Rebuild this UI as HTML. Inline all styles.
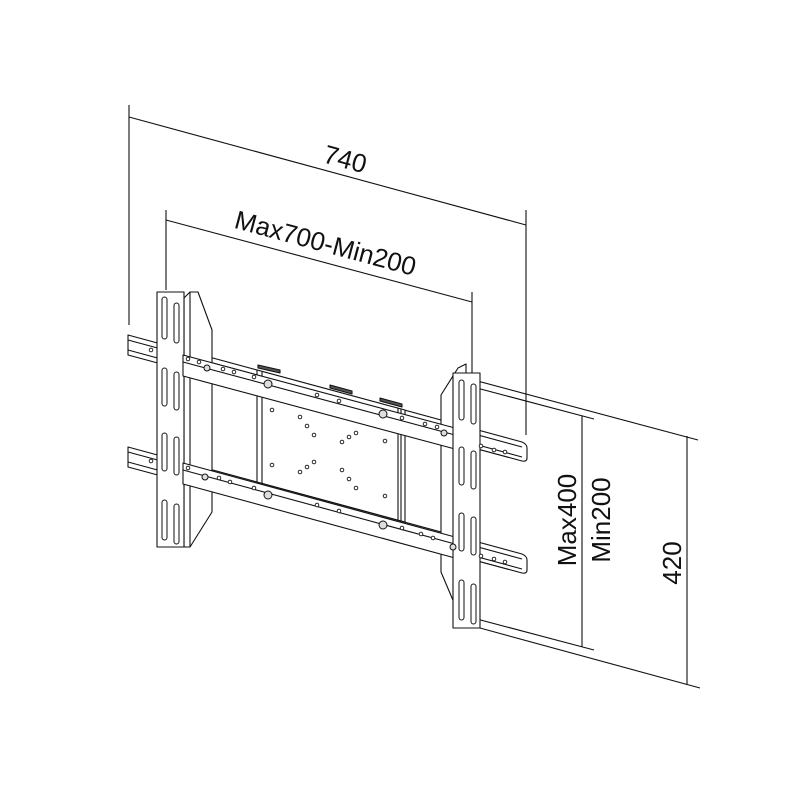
<!DOCTYPE html>
<html><head><meta charset="utf-8"><style>
html,body{margin:0;padding:0;background:#fff}
svg{display:block}
text{font-family:"Liberation Sans",Arial,sans-serif;fill:#111}
</style></head><body>
<svg width="810" height="810" viewBox="0 0 810 810" xmlns="http://www.w3.org/2000/svg">
<g stroke="#111" stroke-width="1.1" fill="none">
<!-- dimension 740 -->
<line x1="129" y1="105" x2="129" y2="325"/>
<line x1="526" y1="210" x2="526" y2="435"/>
<line x1="129" y1="117" x2="526" y2="225"/>
<!-- dimension Max700 -->
<line x1="166" y1="210" x2="166" y2="290"/>
<line x1="472" y1="292" x2="472" y2="375"/>
<line x1="166" y1="220" x2="472" y2="302"/>
<!-- Max400 -->
<line x1="473" y1="387" x2="594" y2="419"/>
<line x1="473" y1="618" x2="594" y2="650"/>
<line x1="582" y1="416" x2="582" y2="647"/>
<!-- 420 -->
<line x1="455" y1="375" x2="698" y2="440"/>
<line x1="480" y1="628" x2="700" y2="688"/>
<line x1="687" y1="436" x2="687" y2="685"/>
</g>

<g stroke="#111" stroke-width="1.1" fill="#fff" stroke-linejoin="round">
<!-- back wall rails -->
<path d="M128 335 L522 442 Q527 444 527 448 L527 458 Q527 462 522 461 L128 355 Z"/>
<path d="M128 340 L522 447 M128 350 L522 457" fill="none"/>
<path d="M128 447 L522 554 Q527 556 527 560 L527 570 Q527 574 522 573 L128 467 Z"/>
<path d="M128 452 L522 559 M128 462 L522 569" fill="none"/>

<!-- left flange -->
<path d="M184 298 L190 292 L198 292 L212 330 L212 512 L190 547 L184 547 Z"/>
<line x1="190" y1="292" x2="190" y2="547"/>
<!-- left plate -->
<rect x="157" y="292" width="27" height="255"/>
<!-- right flange -->
<path d="M458 368 L466 364 L466 628 L455 605 L441 572 L441 395 Z"/>
<!-- center plate -->
<path d="M257 370 L405 410 L405 522 L257 482 Z"/>
<path d="M262 372 L262 484 M398 408 L398 520 M401 409 L401 521" fill="none"/>
<path d="M258 365 L280 370 L280 373 L258 368 Z M330 385 L352 391 L352 394 L330 388 Z M380 398 L402 404 L402 407 L380 401 Z" fill="#555"/>
<!-- front crossbars -->
<path d="M183 355 L455 428 L455 449 L183 376 Z"/>
<line x1="183" y1="362" x2="455" y2="435"/>
<path d="M183 463 L455 537 L455 558 L183 484 Z"/>
<line x1="183" y1="470" x2="455" y2="544"/>
<!-- right plate -->
<rect x="453" y="373" width="27" height="255"/>
</g>

<!-- slots -->
<g stroke="#111" stroke-width="1" fill="#fff">
<rect x="162" y="297" width="5" height="42" rx="2.5"/>
<rect x="174" y="303" width="5" height="40" rx="2.5"/>
<rect x="162" y="368" width="5" height="38" rx="2.5"/>
<rect x="174" y="372" width="5" height="38" rx="2.5"/>
<rect x="162" y="433" width="5" height="38" rx="2.5"/>
<rect x="174" y="437" width="5" height="38" rx="2.5"/>
<rect x="162" y="500" width="5" height="40" rx="2.5"/>
<rect x="174" y="504" width="5" height="40" rx="2.5"/>
<rect x="459" y="380" width="5" height="40" rx="2.5"/>
<rect x="471" y="384" width="5" height="40" rx="2.5"/>
<rect x="459" y="447" width="5" height="38" rx="2.5"/>
<rect x="471" y="451" width="5" height="38" rx="2.5"/>
<rect x="459" y="513" width="5" height="38" rx="2.5"/>
<rect x="471" y="517" width="5" height="38" rx="2.5"/>
<rect x="459" y="580" width="5" height="40" rx="2.5"/>
<rect x="471" y="584" width="5" height="40" rx="2.5"/>
</g>

<!-- dots -->
<g stroke="#111" stroke-width="0.9" fill="#fff">
<circle cx="151" cy="350" r="1.8"/><circle cx="151" cy="461" r="1.8"/>
<circle cx="188" cy="359" r="1.8"/><circle cx="199" cy="362" r="1.8"/><circle cx="223" cy="369" r="1.8"/>
<circle cx="234" cy="372" r="1.8"/><circle cx="254" cy="377" r="1.8"/><circle cx="317" cy="395" r="1.8"/>
<circle cx="339" cy="401" r="1.8"/><circle cx="402" cy="418" r="1.8"/><circle cx="425" cy="424" r="1.8"/>
<circle cx="437" cy="427" r="1.8"/>
<circle cx="188" cy="468" r="1.8"/><circle cx="219" cy="478" r="1.8"/><circle cx="230" cy="482" r="1.8"/>
<circle cx="254" cy="488" r="1.8"/><circle cx="317" cy="505" r="1.8"/><circle cx="339" cy="511" r="1.8"/>
<circle cx="402" cy="528" r="1.8"/><circle cx="421" cy="534" r="1.8"/><circle cx="433" cy="538" r="1.8"/>
<circle cx="481" cy="446" r="1.8"/><circle cx="494" cy="450" r="1.8"/><circle cx="505" cy="452" r="1.8"/>
<circle cx="481" cy="556" r="1.8"/><circle cx="494" cy="559" r="1.8"/><circle cx="505" cy="562" r="1.8"/>
<circle cx="272" cy="410" r="1.8"/><circle cx="300" cy="417" r="1.8"/><circle cx="307" cy="426" r="1.8"/><circle cx="314" cy="435" r="1.8"/>
<circle cx="342" cy="442" r="1.8"/><circle cx="349" cy="437" r="1.8"/><circle cx="356" cy="433" r="1.8"/><circle cx="385" cy="441" r="1.8"/>
<circle cx="272" cy="465" r="1.8"/><circle cx="300" cy="472" r="1.8"/><circle cx="307" cy="467" r="1.8"/><circle cx="314" cy="462" r="1.8"/>
<circle cx="342" cy="470" r="1.8"/><circle cx="349" cy="479" r="1.8"/><circle cx="356" cy="488" r="1.8"/><circle cx="385" cy="496" r="1.8"/>
</g>
<g stroke="#111" stroke-width="1" fill="#ddd">
<circle cx="268" cy="384" r="4"/><circle cx="383" cy="414" r="4"/>
<circle cx="268" cy="495" r="4"/><circle cx="383" cy="525" r="4"/>
<circle cx="207" cy="368" r="3"/><circle cx="205" cy="477" r="3"/>
<circle cx="444" cy="433" r="3"/><circle cx="453" cy="547" r="3"/>
</g>

<!-- labels -->
<text x="345" y="168" font-size="26" text-anchor="middle" transform="rotate(15.2 345 160)">740</text>
<text x="325" y="252" font-size="26" text-anchor="middle" transform="rotate(15 325 245)">Max700-Min200</text>
<text x="0" y="0" font-size="26" text-anchor="middle" transform="translate(576 520) rotate(-90)">Max400</text>
<text x="0" y="0" font-size="26" text-anchor="middle" transform="translate(610 520) rotate(-90)">Min200</text>
<text x="0" y="0" font-size="26" text-anchor="middle" transform="translate(681 563) rotate(-90)">420</text>
</svg>
</body></html>
